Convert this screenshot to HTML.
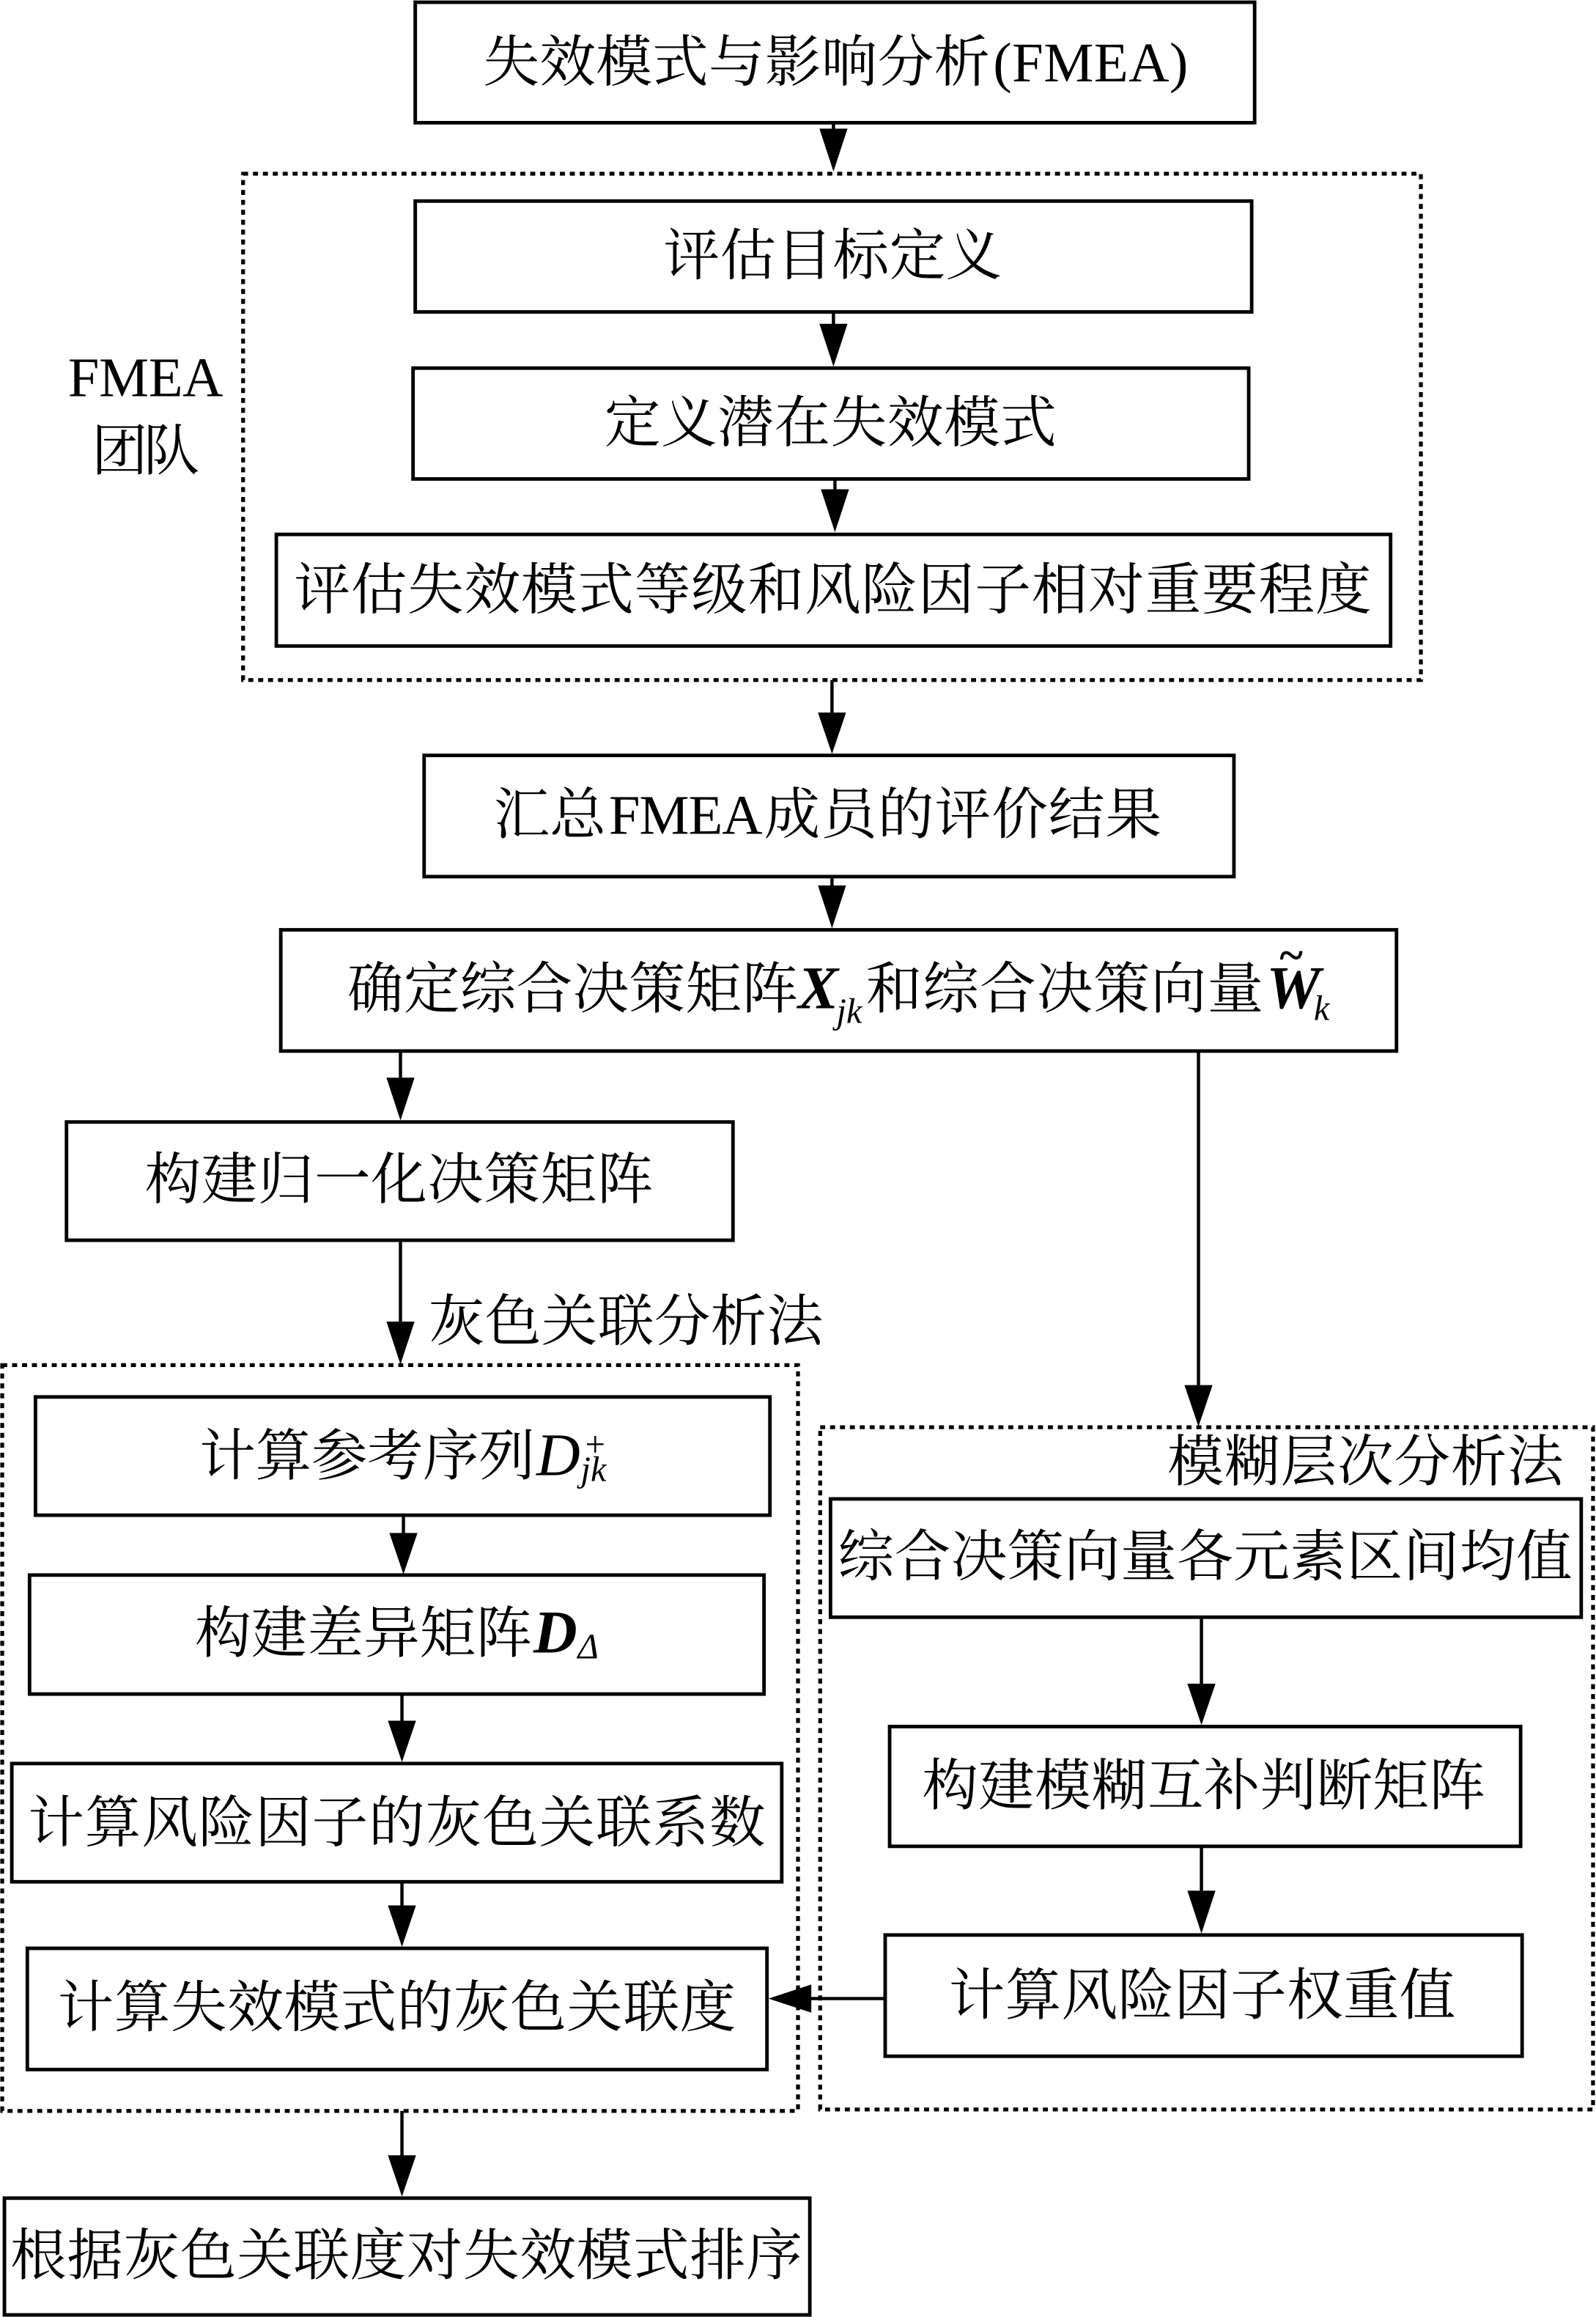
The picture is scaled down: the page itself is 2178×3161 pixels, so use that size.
<!DOCTYPE html>
<html><head><meta charset="utf-8"><style>
html,body{margin:0;padding:0;background:#fff}
svg{display:block}
text{font-family:"Liberation Serif","Noto Serif CJK SC",serif;font-size:38px;fill:#000}
.l{font-family:"Liberation Serif",serif}
.i{font-style:italic}
.b{font-weight:bold}
.s{font-size:24px}
.m{font-size:41px}
rect.x{fill:#fff;stroke:#000;stroke-width:2.4}
rect.d{fill:none;stroke:#000;stroke-width:2.6;stroke-dasharray:3.4 3.3}
line{stroke:#000;stroke-width:2.2}
polygon{fill:#000}
</style></head><body>
<svg xmlns="http://www.w3.org/2000/svg" width="2178" height="3161" viewBox="0 0 1080 1567.4">
<rect width="1080" height="1568" fill="#fff"/>
<rect class="d" x="164.5" y="117.5" width="797" height="342.5"/>
<rect class="d" x="1.5" y="923.5" width="538.5" height="504.5"/>
<rect class="d" x="555" y="965.5" width="523" height="461.5"/>

<rect class="x" x="281" y="1.5" width="568" height="81.5"/>
<rect class="x" x="281" y="136" width="566" height="75"/>
<rect class="x" x="279.5" y="249" width="565.5" height="75"/>
<rect class="x" x="187" y="361.5" width="754" height="75.5"/>
<rect class="x" x="287" y="511" width="548" height="82"/>
<rect class="x" x="190" y="629" width="755" height="82"/>
<rect class="x" x="45" y="759" width="451" height="80"/>
<rect class="x" x="24" y="945" width="497" height="80"/>
<rect class="x" x="20" y="1065.5" width="497" height="80.5"/>
<rect class="x" x="8" y="1193" width="521" height="80"/>
<rect class="x" x="18.500" y="1318" width="500.500" height="82"/>
<rect class="x" x="3" y="1487" width="545" height="79"/>
<rect class="x" x="562" y="1014" width="508" height="80"/>
<rect class="x" x="602" y="1168" width="427" height="81"/>
<rect class="x" x="599" y="1309" width="431" height="82"/>

<line x1="564" y1="83" x2="564" y2="95"/><polygon points="554.500,87 573.500,87 564,116"/>
<line x1="564" y1="211" x2="564" y2="225"/><polygon points="554.500,219 573.500,219 564,248"/>
<line x1="565" y1="324" x2="565" y2="336"/><polygon points="555.500,331 574.500,331 565,360"/>
<line x1="563" y1="460" x2="563" y2="490"/><polygon points="553.500,482 572.500,482 563,510"/>
<line x1="563" y1="593" x2="563" y2="605"/><polygon points="553.500,599 572.500,599 563,628"/>
<line x1="271" y1="711" x2="271" y2="735"/><polygon points="261.500,729 280.500,729 271,758"/>
<line x1="811" y1="711" x2="811" y2="945"/><polygon points="801.500,937 820.500,937 811,965"/>
<line x1="271" y1="839" x2="271" y2="900"/><polygon points="261.500,894 280.500,894 271,923"/>
<line x1="273" y1="1025" x2="273" y2="1045"/><polygon points="263.500,1037 282.500,1037 273,1065"/>
<line x1="272" y1="1146" x2="272" y2="1170"/><polygon points="262.500,1164 281.500,1164 272,1192"/>
<line x1="272" y1="1273" x2="272" y2="1295"/><polygon points="262.500,1289 281.500,1289 272,1317"/>
<line x1="272" y1="1428" x2="272" y2="1465"/><polygon points="262.500,1458 281.500,1458 272,1486"/>
<line x1="813" y1="1094" x2="813" y2="1145"/><polygon points="803.500,1139 822.500,1139 813,1167"/>
<line x1="813" y1="1249" x2="813" y2="1285"/><polygon points="803.500,1279 822.500,1279 813,1308"/>
<line x1="599" y1="1352" x2="540" y2="1352"/><polygon points="549,1342.500 549,1361.500 520,1352"/>

<text x="327" y="55" textLength="343">失效模式与影响分析</text>
<text class="l" x="672" y="55" textLength="132">(FMEA)</text>
<text x="449" y="186" textLength="229">评估目标定义</text>
<text x="409" y="299" textLength="306">定义潜在失效模式</text>
<text x="199" y="412" textLength="729">评估失效模式等级和风险因子相对重要程度</text>
<text class="l" x="46" y="268" textLength="105">FMEA</text>
<text x="62" y="318" textLength="73">团队</text>
<text x="334" y="564" textLength="76">汇总</text>
<text class="l" x="412" y="564" textLength="104">FMEA</text>
<text x="517" y="564" textLength="269">成员的评价结果</text>
<text x="235" y="682" textLength="305">确定综合决策矩阵</text>
<text class="l i b m" x="540" y="682">X</text>
<text class="l i s" x="566" y="692">jk</text>
<text x="586" y="682" textLength="269">和综合决策向量</text>
<text class="l i b m" x="857" y="682" textLength="31">W</text>
<text class="l b" x="866" y="656" style="font-size:30px">~</text>
<text class="l i s" x="889" y="690">k</text>
<text x="98" y="811" textLength="344">构建归一化决策矩阵</text>
<text x="290" y="907" textLength="267">灰色关联分析法</text>
<text x="135" y="998" textLength="227">计算参考序列</text>
<text class="l i m" x="363" y="998">D</text>
<text class="l s" x="396" y="985">+</text>
<text class="l i s" x="393" y="1002">jk</text>
<text x="132" y="1118" textLength="228">构建差异矩阵</text>
<text class="l i b m" x="361" y="1118">D</text>
<text class="l i s" x="391" y="1122">Δ</text>
<text x="19" y="1246" textLength="499">计算风险因子的灰色关联系数</text>
<text x="39" y="1371" textLength="459">计算失效模式的灰色关联度</text>
<text x="7" y="1539" textLength="536">根据灰色关联度对失效模式排序</text>
<text x="790" y="1002" textLength="268">模糊层次分析法</text>
<text x="567" y="1066" textLength="497">综合决策向量各元素区间均值</text>
<text x="624" y="1221" textLength="381">构建模糊互补判断矩阵</text>
<text x="642" y="1363" textLength="343">计算风险因子权重值</text>
</svg>
</body></html>
